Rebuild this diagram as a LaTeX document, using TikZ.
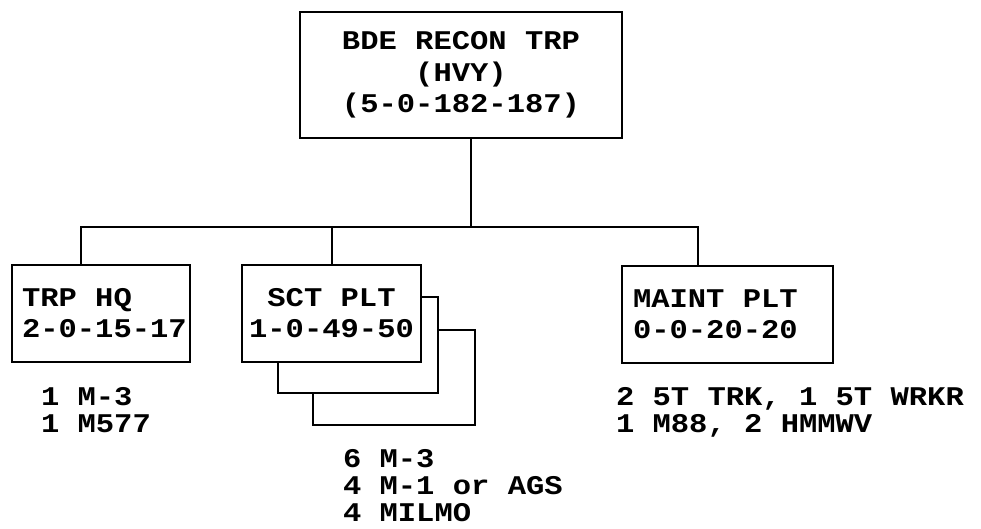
\documentclass[tikz,border=0pt]{standalone}
\usepackage{fontspec}
\setmainfont{Liberation Mono}[FakeStretch=1.13, WordSpace={1,0,0}]
\usetikzlibrary{positioning, calc}
\exhyphenpenalty=10000
\hyphenpenalty=10000
\begin{document}
\begin{tikzpicture}[x=1pt, y=-1pt, line width=2pt,
  font=\fontsize{27}{31}\selectfont\bfseries,
  unit/.style={draw, fill=white, inner sep=0pt, minimum height=97pt},
  unittext/.style={inner sep=0pt, align=left, anchor=west},
  gear/.style={inner sep=0pt, align=left, anchor=north west,
    font=\fontsize{27}{27}\selectfont\bfseries}]
  \useasboundingbox (0,0) rectangle (981,528);

  \node[unit, minimum width=322pt, minimum height=126pt, align=center,
    font=\fontsize{27}{31.5}\selectfont\bfseries] (bde) at (461,75)
    {BDE RECON TRP\\(HVY)\\(5-0-182-187)};

  \node[unit, minimum width=178pt] (hq) at (101,313.5) {};
  \node[unittext] (hqtext) at ([xshift=10pt]hq.west) {TRP HQ\\2-0-15-17};

  % stacked platoons
  \node[unit, minimum width=162pt, minimum height=95pt] (sct3) at (394,377.5) {};
  \node[unit, minimum width=160pt, minimum height=96pt] (sct2) at (358,345) {};
  \node[unit, minimum width=179pt, align=center] (sct) at (331.5,313.5)
    {SCT PLT\\1-0-49-50};

  \node[unit, minimum width=211pt] (maint) at (727.5,314.5) {};
  \node[unittext] (mainttext) at ([xshift=11pt]maint.west) {MAINT PLT\\0-0-20-20};

  % equipment
  \node[gear] (hqgear) at (40,386) {1 M-3\\1 M577};
  \node[gear] (sctgear) at (342,448) {6 M-3\\4 M-1 or AGS\\4 MILMO};
  \node[gear] (maintgear) at (615,386) {2 5T TRK, 1 5T WRKR\\1 M88, 2 HMMWV};

  % lines
  \coordinate (bus) at (471,227);
  \draw (bde.south -| bus) -- (bus);
  \draw ([xshift=70pt]hq.north west) |- (bus) -| ([xshift=77pt]maint.north west);
  \draw (sct.north) -- (sct.north |- bus);
\end{tikzpicture}
\end{document}
